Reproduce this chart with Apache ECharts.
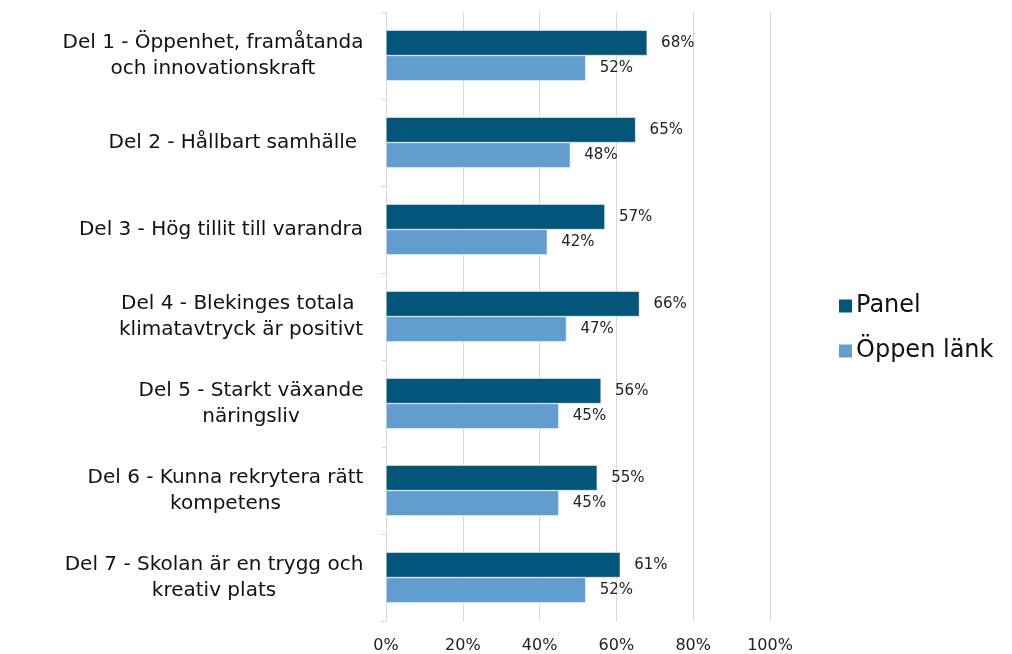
<!DOCTYPE html>
<html>
<head>
<meta charset="utf-8">
<script src="https://cdn.jsdelivr.net/npm/echarts@6/dist/echarts.min.js"></script>
<style>
  html, body { margin: 0; padding: 0; background: #fff; }
  #chart { width: 1012px; height: 654px; }
</style>
</head>
<body>
<div id="chart"></div>
<script>
const categories = [
  "Del 1 - Öppenhet, framåtanda\noch innovationskraft",
  "Del 2 - Hållbart samhälle ",
  "Del 3 - Hög tillit till varandra",
  "Del 4 - Blekinges totala \nklimatavtryck är positivt",
  "Del 5 - Starkt växande\nnäringsliv",
  "Del 6 - Kunna rekrytera rätt\nkompetens",
  "Del 7 - Skolan är en trygg och\nkreativ plats"
];
const panel = [68, 65, 57, 66, 56, 55, 61];
const oppenLank = [52, 48, 42, 47, 45, 45, 52];

const font = "'DejaVu Sans', sans-serif";
const catFontSize = 20;

// multi-line labels: right-aligned block, lines centred inside it
var ctx = document.createElement("canvas").getContext("2d");
ctx.font = catFontSize + "px " + font;
var rich = {};
categories.forEach(function (c, i) {
  var w = 0;
  c.split("\n").forEach(function (l) {
    w = Math.max(w, ctx.measureText(l).width);
  });
  rich["l" + i] = { width: Math.ceil(w) + 1, align: "center", fontSize: catFontSize, lineHeight: 26, color: "#111" };
});

var chart = echarts.init(document.getElementById("chart"));
chart.setOption({
  animation: false,
  textStyle: { fontFamily: font },
  grid: { left: 386, right: 242, top: 12, bottom: 33 },
  legend: {
    orient: "vertical",
    left: 832,
    top: 289,
    itemWidth: 15,
    itemHeight: 15,
    itemGap: 21,
    icon: "rect",
    textStyle: { fontSize: 24, color: "#111", fontFamily: font, padding: [0, 0, 0, -2] }
  },
  xAxis: {
    type: "value",
    min: 0,
    max: 100,
    interval: 20,
    axisLabel: { formatter: "{value}%", fontSize: 16, color: "#222", margin: 17 },
    axisLine: { show: false },
    axisTick: { show: false },
    splitLine: { lineStyle: { color: "#d9d9d9", width: 1 } }
  },
  yAxis: {
    type: "category",
    inverse: true,
    data: categories,
    axisLine: { lineStyle: { color: "#d9d9d9" } },
    axisTick: { show: true, length: 5, lineStyle: { color: "#d9d9d9" } },
    axisLabel: {
      align: "right",
      margin: 22,
      rich: rich,
      formatter: function (value, index) {
        return value.split("\n").map(function (l) {
          return "{l" + index + "|" + l + "}";
        }).join("\n");
      }
    }
  },
  series: [
    {
      name: "Panel",
      type: "bar",
      data: panel,
      barGap: "0%",
      barCategoryGap: "42%",
      itemStyle: { color: "#03567A", borderColor: "#ffffff", borderWidth: 0.5 },
      label: { show: true, position: "right", distance: 14, formatter: "{c}%", fontSize: 15, color: "#222" }
    },
    {
      name: "Öppen länk",
      type: "bar",
      data: oppenLank,
      itemStyle: { color: "#619ECF", borderColor: "#ffffff", borderWidth: 0.5 },
      label: { show: true, position: "right", distance: 14, formatter: "{c}%", fontSize: 15, color: "#222" }
    }
  ]
});
</script>
</body>
</html>
